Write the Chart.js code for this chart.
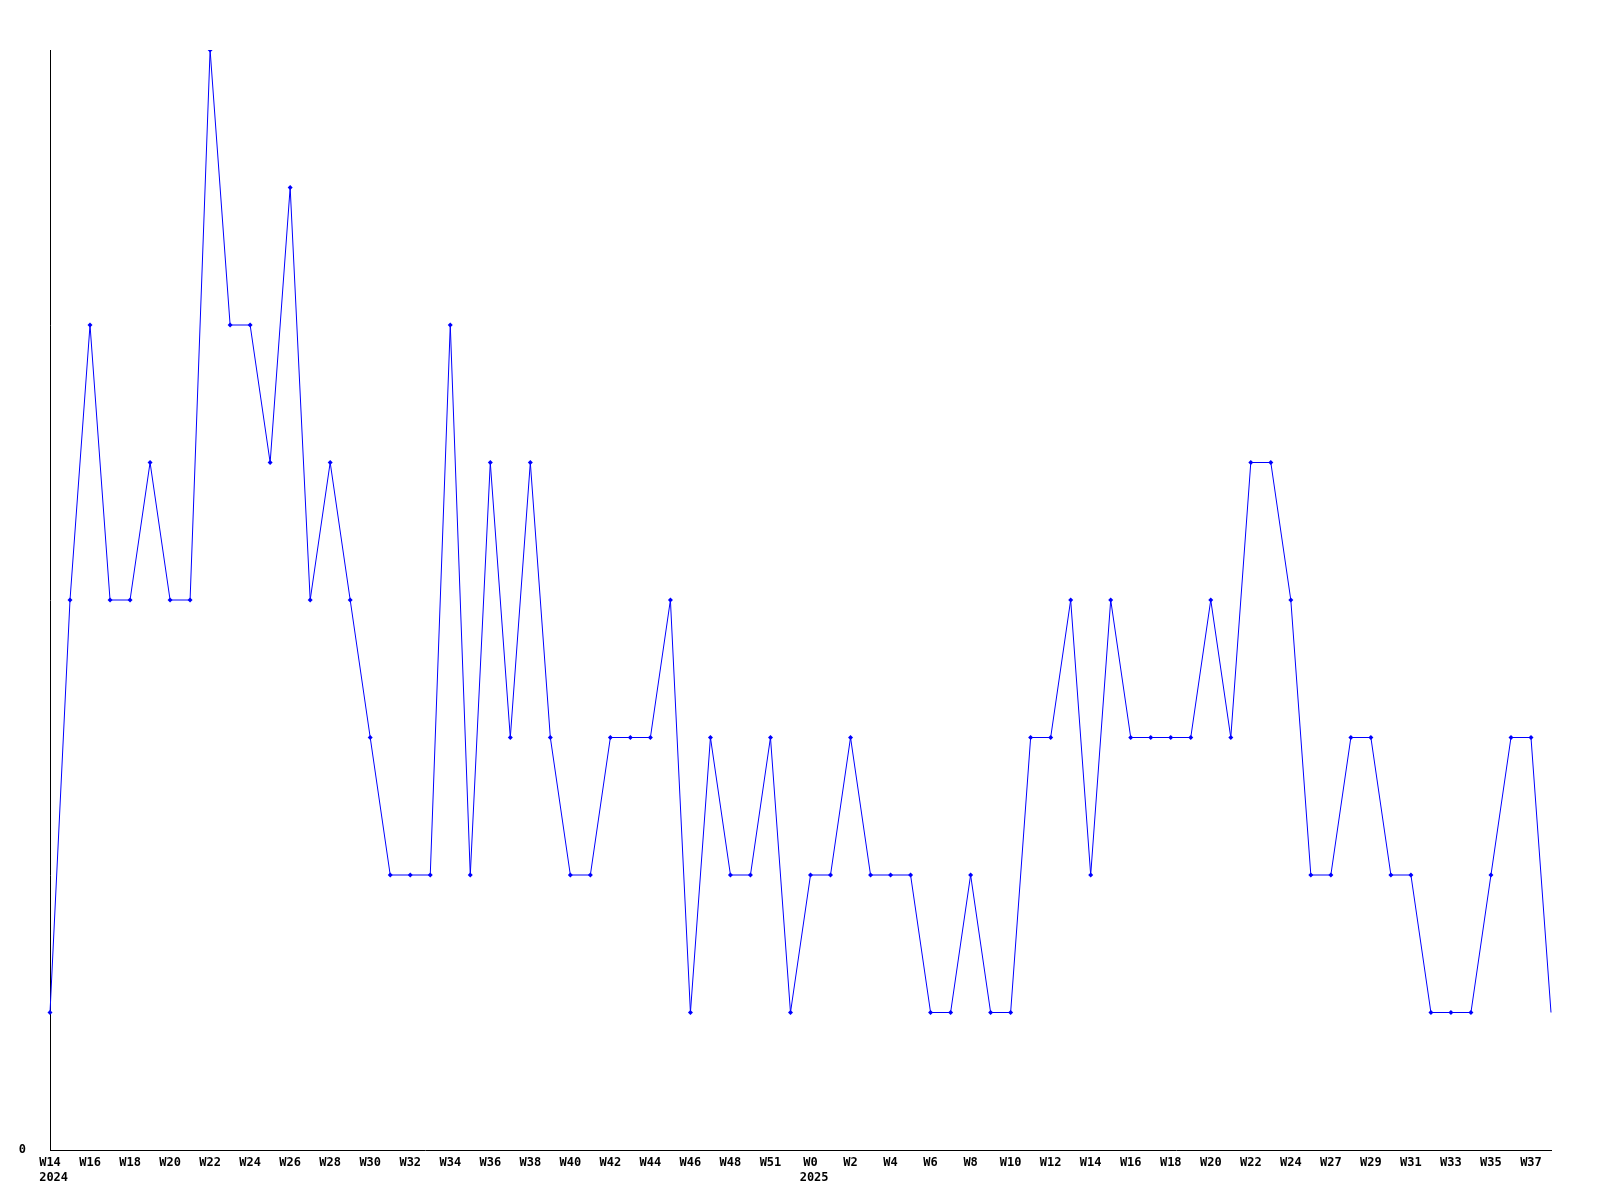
<!DOCTYPE html>
<html>
<head>
<meta charset="utf-8">
<script src="https://cdn.jsdelivr.net/npm/chart.js@4.4.1/dist/chart.umd.min.js"></script>
<style>
  html, body { margin: 0; padding: 0; background: #fff; }
  #wrap { width: 1600px; height: 1200px; }
</style>
</head>
<body>
<div id="wrap"><canvas id="weekChart" width="1600" height="1200"></canvas></div>
<script>
// weeks shown on the x axis, one per point
const weeks = [
  'W14','W15','W16','W17','W18','W19','W20','W21','W22','W23',
  'W24','W25','W26','W27','W28','W29','W30','W31','W32','W33',
  'W34','W35','W36','W37','W38','W39','W40','W41','W42','W43',
  'W44','W45','W46','W47','W48','W50','W51','W52','W0','W1',
  'W2','W3','W4','W5','W6','W7','W8','W9','W10','W11',
  'W12','W13','W14','W15','W16','W17','W18','W19','W20','W21',
  'W22','W23','W24','W26','W27','W28','W29','W30','W31','W32',
  'W33','W34','W35','W36','W37','W38'
];
// year printed under the first week of each year
const years = { 0: '2024', 38: '2025' };

const counts = [
  1, 4, 6, 4, 4, 5, 4, 4, 8, 6,
  6, 5, 7, 4, 5, 4, 3, 2, 2, 2,
  6, 2, 5, 3, 5, 3, 2, 2, 3, 3,
  3, 4, 1, 3, 2, 2, 3, 1, 2, 2,
  3, 2, 2, 2, 1, 1, 2, 1, 1, 3,
  3, 4, 2, 4, 3, 3, 3, 3, 4, 3,
  5, 5, 4, 2, 2, 3, 3, 2, 2, 1,
  1, 1, 2, 3, 3, 1
];

// year sits left-aligned under the week label, hence the padding space
const labels = weeks.map((w, i) => years[i] ? [w, ' ' + years[i]] : w);
const tickFont = { family: 'DejaVu Sans Mono', size: 12, weight: 'bold', lineHeight: 15 / 12 };

new Chart(document.getElementById('weekChart'), {
  type: 'line',
  data: {
    labels: labels,
    datasets: [{
      data: counts,
      borderColor: '#0000ff',
      backgroundColor: '#0000ff',
      borderWidth: 1,
      tension: 0,
      fill: false,
      pointStyle: 'rectRot',
      pointRadius: ctx => ctx.dataIndex === counts.length - 1 ? 0 : 2.5,
      pointBorderWidth: 0
    }]
  },
  options: {
    responsive: false,
    animation: false,
    layout: { padding: { top: 50, right: 49, left: 0, bottom: 0 } },
    plugins: { legend: { display: false }, tooltip: { enabled: false } },
    scales: {
      x: {
        offset: false,
        grid: { display: false, drawTicks: false },
        border: { display: true, color: '#000', width: 1 },
        ticks: {
          autoSkip: false,
          maxRotation: 0,
          padding: 5,
          color: '#000',
          font: tickFont,
          callback: function (v, i) { return i % 2 === 0 ? labels[i] : ''; }
        },
        afterFit: s => { s.height = 50; }
      },
      y: {
        min: 0,
        max: 8,
        grid: { display: false, drawTicks: false },
        border: { display: true, color: '#000', width: 1 },
        ticks: {
          stepSize: 8,
          padding: 24,
          color: '#000',
          font: tickFont,
          callback: v => v === 0 ? '0' : null
        },
        afterFit: s => { s.width = 50; }
      }
    }
  }
});
</script>
</body>
</html>
